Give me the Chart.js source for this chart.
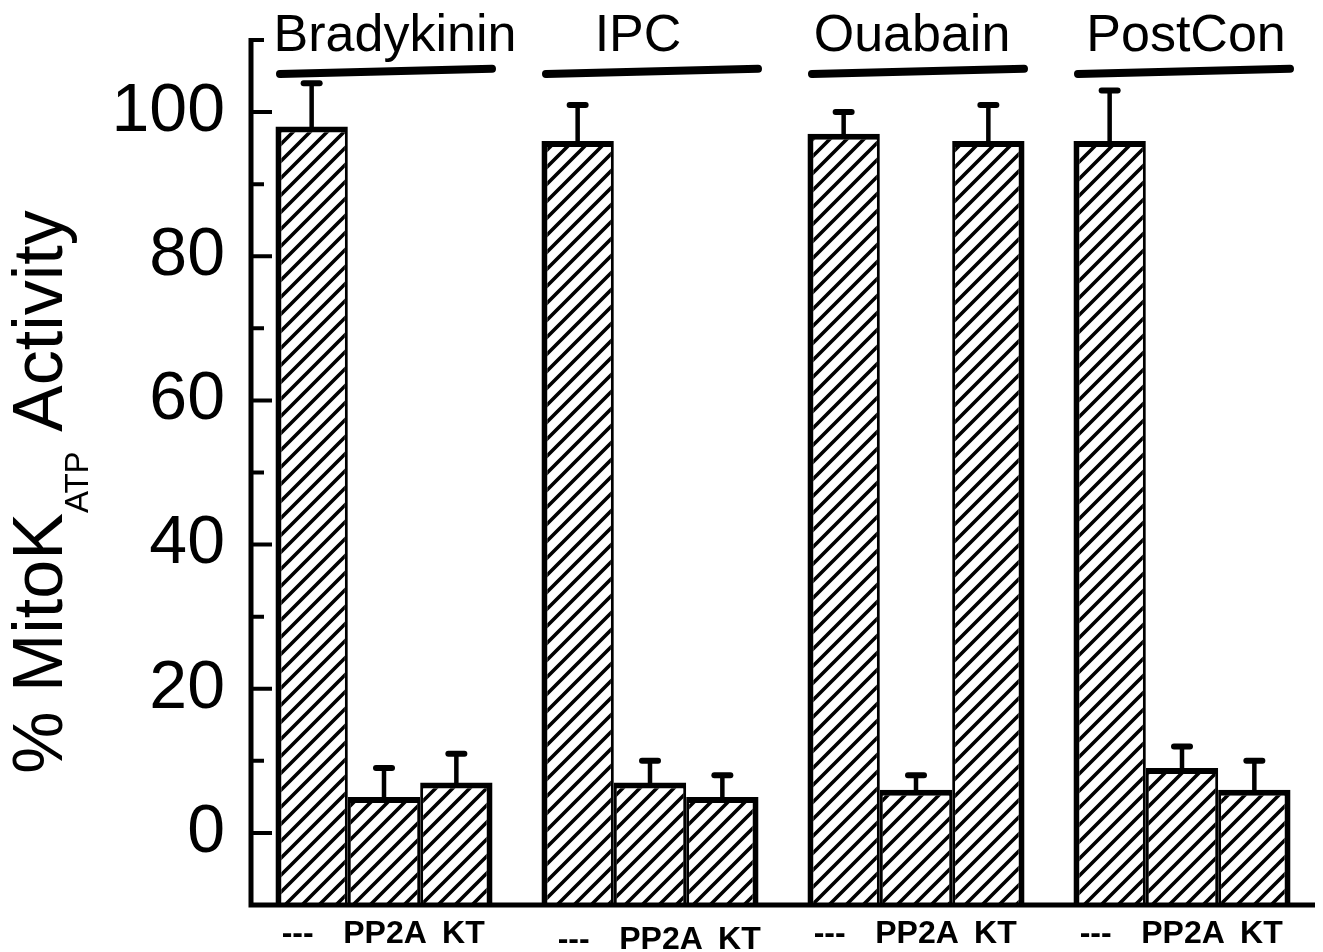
<!DOCTYPE html>
<html>
<head>
<meta charset="utf-8">
<script src="https://cdn.jsdelivr.net/npm/chart.js@4.4.1/dist/chart.umd.min.js"></script>
<style>
  html, body { margin: 0; padding: 0; background: #fff; }
  canvas { display: block; }
</style>
</head>
<body>
<canvas id="mitoChart" width="1323" height="952"></canvas>
<script>
// data
const groups = ['Bradykinin', 'IPC', 'Ouabain', 'PostCon'];
const treatments = ['---', 'PP2A', 'KT'];
const controlValues = [98, 96, 97, 96];
const controlErrors = [6, 5, 3, 7];
const pp2aValues = [5, 7, 6, 9];
const pp2aErrors = [4, 3, 2, 3];
const ktValues = [7, 5, 96, 6];
const ktErrors = [4, 3, 5, 4];
const yTicks = [0, 20, 40, 60, 80, 100];
const yMinorTicks = [10, 30, 50, 70, 90, 110];

const FONT = '"Liberation Sans", Arial, Helvetica, sans-serif';

const canvas = document.getElementById('mitoChart');
const ctx = canvas.getContext('2d');

// ///// hatch fill
function makeHatch() {
    const n = 17;
    const c = document.createElement('canvas');
    c.width = n; c.height = n;
    const g = c.getContext('2d');
    g.fillStyle = '#fff';
    g.fillRect(0, 0, n, n);
    g.strokeStyle = '#000';
    g.lineWidth = 3.6;
    g.beginPath();
    g.moveTo(-n / 2, n / 2); g.lineTo(n / 2, -n / 2);
    g.moveTo(0, n); g.lineTo(n, 0);
    g.moveTo(n / 2, n * 1.5); g.lineTo(n * 1.5, n / 2);
    g.stroke();
    return ctx.createPattern(c, 'repeat');
}
const hatch = makeHatch();

// error bars (upper only, with cap)
const errorBars = {
    id: 'errorBars',
    afterDatasetsDraw(chart) {
        const c = chart.ctx, y = chart.scales.y;
        c.save();
        c.strokeStyle = '#000';
        c.lineCap = 'round';
        chart.data.datasets.forEach((ds, i) => {
            chart.getDatasetMeta(i).data.forEach((bar, j) => {
                const top = y.getPixelForValue(ds.data[j] + ds.errors[j]);
                c.lineWidth = 4.5;
                c.beginPath();
                c.moveTo(bar.x, bar.y);
                c.lineTo(bar.x, top);
                c.stroke();
                c.lineWidth = 6;
                c.beginPath();
                c.moveTo(bar.x - 8, top);
                c.lineTo(bar.x + 8, top);
                c.stroke();
            });
        });
        c.restore();
    }
};

// axes, inward ticks, title, group labels and treatment labels
const decorations = {
    id: 'decorations',
    afterDraw(chart) {
        const c = chart.ctx, area = chart.chartArea;
        const x = chart.scales.x, y = chart.scales.y;
        c.save();
        c.strokeStyle = '#000';
        c.fillStyle = '#000';

        // axis lines
        c.lineWidth = 5;
        c.beginPath();
        c.moveTo(area.left, area.top - 2);
        c.lineTo(area.left, area.bottom + 2.5);
        c.moveTo(area.left - 2.5, area.bottom);
        c.lineTo(area.right, area.bottom);
        c.stroke();

        // inward ticks
        c.lineWidth = 4;
        c.beginPath();
        yTicks.forEach(v => {
            const py = y.getPixelForValue(v);
            c.moveTo(area.left, py);
            c.lineTo(area.left + 21, py);
        });
        yMinorTicks.forEach(v => {
            const py = y.getPixelForValue(v);
            c.moveTo(area.left, py);
            c.lineTo(area.left + 13, py);
        });
        c.stroke();

        // y title with subscript
        c.save();
        c.translate(62, 492);
        c.rotate(-Math.PI / 2);
        c.textBaseline = 'alphabetic';
        c.textAlign = 'left';
        const bigFont = '70px ' + FONT, subFont = '33px ' + FONT;
        c.font = bigFont;
        const w1 = c.measureText('% MitoK').width;
        const w3 = c.measureText(' Activity').width;
        c.font = subFont;
        const w2 = c.measureText('ATP').width;
        let sx = -(w1 + w2 + w3) / 2;
        c.font = bigFont;
        c.fillText('% MitoK', sx, 0);
        sx += w1;
        c.font = subFont;
        c.fillText('ATP', sx, 26);
        sx += w2;
        c.font = bigFont;
        c.fillText(' Activity', sx, 0);
        c.restore();

        // group labels and bracket lines
        const labelShift = [11, -12, -4, 4];
        c.font = '52px ' + FONT;
        c.textAlign = 'center';
        c.textBaseline = 'alphabetic';
        c.lineCap = 'round';
        c.lineWidth = 8;
        groups.forEach((g, i) => {
            const cx = x.getPixelForValue(i);
            c.fillText(g, cx + labelShift[i], 51);
            c.beginPath();
            c.moveTo(cx - 104, y.getPixelForValue(105.3));
            c.lineTo(cx + 108, y.getPixelForValue(106));
            c.stroke();
        });

        // treatment labels under each bar
        const shift = [-14, 1, 7];
        c.font = 'bold 32px ' + FONT;
        chart.data.datasets.forEach((ds, i) => {
            chart.getDatasetMeta(i).data.forEach((bar, j) => {
                const second = j === 1;
                c.fillText(treatments[i], bar.x + shift[i] + (second ? 10 : 0), second ? 949 : 943);
            });
        });
        c.restore();
    }
};

const barStyle = (values, errors, label, border) => ({
    label: label,
    data: values,
    errors: errors,
    base: -10,
    backgroundColor: hatch,
    borderColor: '#000',
    borderWidth: border,
    borderSkipped: 'start',
    categoryPercentage: 0.816,
    barPercentage: 1
});

new Chart(ctx, {
    type: 'bar',
    data: {
        labels: groups,
        datasets: [
            barStyle(controlValues, controlErrors, treatments[0], { top: 6, left: 6, right: 3, bottom: 0 }),
            barStyle(pp2aValues, pp2aErrors, treatments[1], { top: 6, left: 3, right: 3, bottom: 0 }),
            barStyle(ktValues, ktErrors, treatments[2], { top: 6, left: 3, right: 6, bottom: 0 })
        ]
    },
    options: {
        responsive: false,
        animation: false,
        layout: { padding: { top: 40, right: 8, left: 0, bottom: 0 } },
        plugins: { legend: { display: false }, tooltip: { enabled: false } },
        scales: {
            x: {
                offset: true,
                grid: { display: false },
                border: { display: false },
                ticks: { display: false },
                afterFit: s => { s.height = 47; s.paddingLeft = 0; s.paddingRight = 0; }
            },
            y: {
                min: -10,
                max: 110,
                grid: { display: false },
                border: { display: false },
                afterBuildTicks: s => { s.ticks = yTicks.map(v => ({ value: v })); },
                ticks: { color: '#000', padding: 18, font: { family: FONT, size: 68, lineHeight: 1 } },
                afterFit: s => { s.width = 251; s.paddingTop = 0; s.paddingBottom = 0; }
            }
        }
    },
    plugins: [errorBars, decorations]
});
</script>
</body>
</html>
